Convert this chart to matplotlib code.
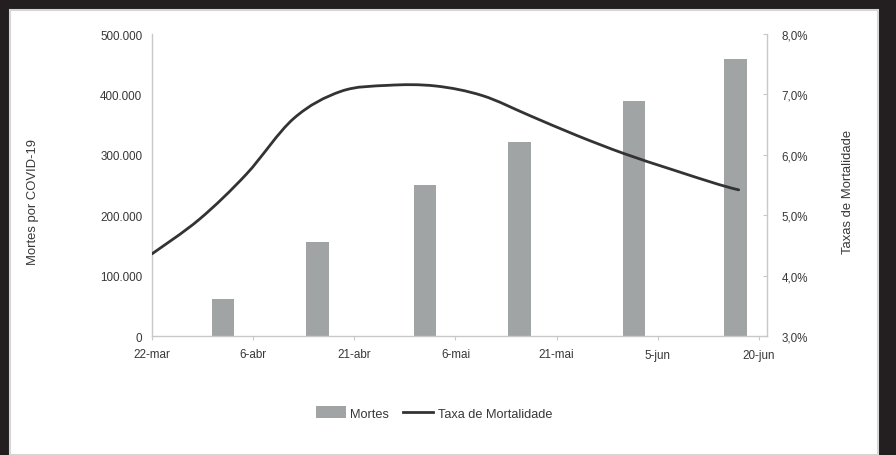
import datetime as dt

import matplotlib
matplotlib.use("Agg")
import matplotlib.pyplot as plt
import matplotlib.dates as mdates
from matplotlib.path import Path
from matplotlib.patches import PathPatch, Rectangle
from matplotlib.lines import Line2D

plt.rcParams["font.family"] = ["Liberation Sans", "DejaVu Sans"]

# Data
bar_dates = ["2020-04-01", "2020-04-15", "2020-05-01", "2020-05-15", "2020-06-01", "2020-06-16"]
mortes = [61000, 155000, 250000, 322000, 389000, 458000]

taxa_dates = ["2020-03-22", "2020-03-29", "2020-04-05", "2020-04-12", "2020-04-19",
              "2020-04-26", "2020-05-03", "2020-05-10", "2020-05-17", "2020-05-24",
              "2020-05-31", "2020-06-07", "2020-06-14", "2020-06-17"]
taxa = [4.36, 4.93, 5.68, 6.60, 7.05, 7.15, 7.14, 6.98, 6.65, 6.32, 6.02, 5.76, 5.51, 5.42]

tick_dates = ["2020-03-22", "2020-04-06", "2020-04-21", "2020-05-06", "2020-05-21", "2020-06-05", "2020-06-20"]
tick_labels = ["22-mar", "6-abr", "21-abr", "6-mai", "21-mai", "5-jun", "20-jun"]

left_ticks = [0, 100000, 200000, 300000, 400000, 500000]
left_labels = ["0", "100.000", "200.000", "300.000", "400.000", "500.000"]
right_ticks = [3, 4, 5, 6, 7, 8]
right_labels = ["3,0%", "4,0%", "5,0%", "6,0%", "7,0%", "8,0%"]


def to_num(s):
    return mdates.date2num(dt.datetime.strptime(s, "%Y-%m-%d"))


BG = "#231f20"
GRID = "#c8c8c8"
BAR = "#a0a4a5"
LINE = "#333333"
TXT = "#383838"
FS = 8.4
FS_LABEL = 9.4

fig = plt.figure(figsize=(8.96, 4.56), dpi=100, facecolor=BG)

# white chart panel with a light border
panel = Rectangle((10 / 896, 0), 868 / 896, 1 - 11 / 456, transform=fig.transFigure,
                  facecolor="white", edgecolor="#d6d6d6", linewidth=1.5, zorder=-5)
fig.patches.append(panel)

ax = fig.add_axes([152 / 896, 1 - 337 / 456, 615 / 896, 302 / 456])
ax.set_facecolor("none")
ax2 = ax.twinx()
ax.set_zorder(1)
ax2.set_zorder(2)
ax2.patch.set_visible(False)

# columns, centred in the middle of each day slot
xb = [to_num(d) + 0.5 for d in bar_dates]
ax.bar(xb, mortes, width=3.35, color=BAR, zorder=2)

ax.set_ylim(0, 500000)
ax.set_yticks(left_ticks)
ax.set_yticklabels(left_labels)
x0 = to_num(tick_dates[0])
x1 = to_num(tick_dates[-1]) + 1.2
ax.set_xlim(x0, x1)
ax.set_xticks([to_num(d) for d in tick_dates])
ax.set_xticklabels(tick_labels)

# smoothed rate curve (cubic Bezier through every point)
xs = [to_num(d) for d in taxa_dates]
pts = list(zip(xs, taxa))
n = len(pts)
verts = [pts[0]]
codes = [Path.MOVETO]
for i in range(n - 1):
    p_prev = pts[max(i - 1, 0)]
    p0 = pts[i]
    p1 = pts[i + 1]
    p_next = pts[min(i + 2, n - 1)]
    c1 = (p0[0] + (p1[0] - p_prev[0]) / 6, p0[1] + (p1[1] - p_prev[1]) / 6)
    c2 = (p1[0] - (p_next[0] - p0[0]) / 6, p1[1] - (p_next[1] - p0[1]) / 6)
    verts += [c1, c2, p1]
    codes += [Path.CURVE4] * 3
ax2.add_patch(PathPatch(Path(verts, codes), facecolor="none", edgecolor=LINE,
                        linewidth=2.0, capstyle="round", zorder=3))
ax2.set_ylim(3, 8)
ax2.set_yticks(right_ticks)
ax2.set_yticklabels(right_labels)

for a in (ax, ax2):
    a.spines["top"].set_visible(False)
    for side in ("left", "right", "bottom"):
        a.spines[side].set_color(GRID)
        a.spines[side].set_linewidth(1.0)

ax.spines["right"].set_visible(False)
ax2.spines["left"].set_visible(False)
ax2.spines["bottom"].set_visible(False)

ax.tick_params(axis="y", length=0, pad=7.0, labelsize=FS, labelcolor=TXT)
ax.tick_params(axis="x", length=3, direction="out", color=GRID, pad=6, labelsize=FS, labelcolor=TXT)
ax2.tick_params(axis="y", length=3, direction="in", color=GRID, pad=10.5, labelsize=FS, labelcolor=TXT)

ax.set_ylabel("Mortes por COVID-19", fontsize=FS_LABEL, color=TXT)
ax.yaxis.set_label_coords(-0.184, 0.447)
ax2.set_ylabel("Taxas de Mortalidade", fontsize=FS_LABEL, color=TXT)
ax2.yaxis.set_label_coords(1.122, 0.48)

handles = [Rectangle((0, 0), 1, 1, facecolor=BAR, edgecolor="none"),
           Line2D([], [], color=LINE, linewidth=2.0)]
fig.legend(handles, ["Mortes", "Taxa de Mortalidade"], loc="center",
           bbox_to_anchor=(434 / 896, 1 - 414 / 456), ncol=2, frameon=False,
           fontsize=9.2, labelcolor=TXT, handlelength=2.35, handleheight=1.0,
           handletextpad=0.35, columnspacing=1.1)

fig.savefig("out.png", dpi=100, facecolor=BG)
